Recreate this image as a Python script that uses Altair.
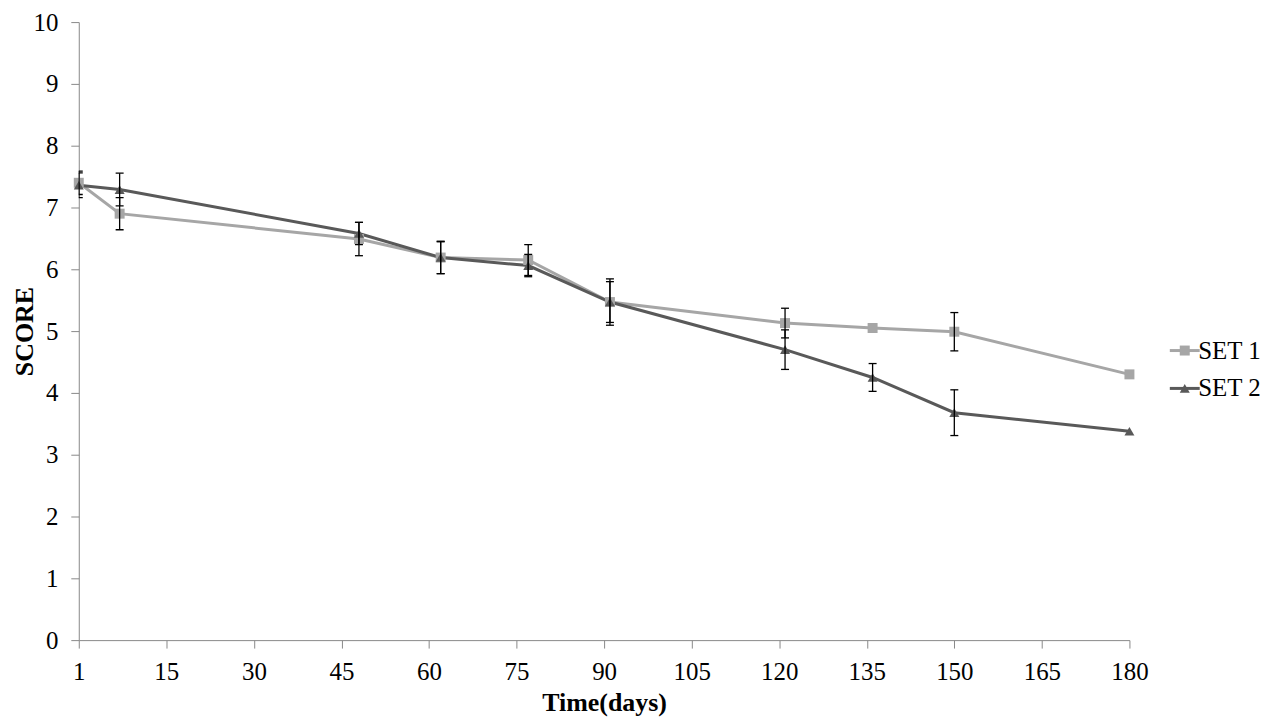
import altair as alt
import pandas as pd

# ---- data ----
days = [0, 7, 48, 62, 77, 91, 121, 136, 150, 180]
set1 = [7.40, 6.90, 6.49, 6.19, 6.15, 5.47, 5.13, 5.05, 4.99, 4.30]
set1_err = [0.19, 0.26, 0.27, 0.26, 0.25, 0.33, 0.24, None, 0.31, None]
set2 = [7.36, 7.29, 6.58, 6.19, 6.06, 5.47, 4.70, 4.25, 3.68, 3.38]
set2_err = [0.20, 0.265, 0.18, 0.26, 0.18, 0.375, 0.32, 0.225, 0.37, None]

series_names = ["SET 1", "SET 2"]
colors = ["#A6A6A6", "#595959"]
shapes = ["square", "triangle-up"]
x_ticks = [0, 15, 30, 45, 60, 75, 90, 105, 120, 135, 150, 165, 180]
y_ticks = [0, 1, 2, 3, 4, 5, 6, 7, 8, 9, 10]

rows = []
for name, vals, errs in [("SET 1", set1, set1_err), ("SET 2", set2, set2_err)]:
    for d, v, e in zip(days, vals, errs):
        rows.append({"day": d, "score": v, "err": e, "series": name, "name": name})
df = pd.DataFrame(rows)
err_df = df.dropna(subset=["err"]).copy()
err_df["lo"] = err_df["score"] - err_df["err"]
err_df["hi"] = err_df["score"] + err_df["err"]

FONT = "Liberation Serif"
AX = "#898989"

x_axis = alt.Axis(values=x_ticks, labelExpr="datum.value == 0 ? '1' : datum.label",
                  title="Time(days)", labelPadding=12, titlePadding=5,
                  labelFlush=False, labelOverlap=False, grid=False)
y_axis = alt.Axis(values=y_ticks, title="SCORE", labelPadding=13, titlePadding=-5, grid=False)

xs = alt.Scale(domain=[0, 180], nice=False, zero=False)
ys = alt.Scale(domain=[0, 10], nice=False)

def X():
    return alt.X("day:Q", scale=xs, axis=x_axis, title="Time(days)")

def Y(field):
    return alt.Y(field, scale=ys, axis=y_axis, title="SCORE")

LX = 1097
LY = 317

lines = alt.Chart(df).mark_line(strokeWidth=3).encode(
    x=X(), y=Y("score:Q"),
    stroke=alt.Stroke("series:N", scale=alt.Scale(range=colors),
                      legend=alt.Legend(title=None, orient="none", legendX=LX, legendY=LY,
                                        symbolType="M-3,0H3", symbolSize=100,
                                        symbolStrokeWidth=3, labelOpacity=0,
                                        labelFont=FONT, labelFontSize=25,
                                        labelOffset=1, rowPadding=12, padding=0,
                                        zindex=0)),
)

shape_legend = alt.Legend(title=None, orient="none", legendX=LX, legendY=LY,
                          symbolSize=100, labelFont=FONT, labelFontSize=25,
                          labelColor="black", labelOffset=1, rowPadding=12,
                          padding=0, zindex=1, symbolOpacity=1)

points = alt.Chart(df).mark_point(filled=True, size=100, opacity=1, strokeWidth=0).encode(
    x=X(), y=Y("score:Q"),
    fill=alt.Fill("name:N", scale=alt.Scale(domain=series_names, range=colors), legend=shape_legend),
    shape=alt.Shape("name:N", scale=alt.Scale(domain=series_names, range=shapes), legend=shape_legend),
)

bars = alt.Chart(err_df).mark_rule(color="black", strokeWidth=1.3, clip=True).encode(
    x=X(), y=Y("lo:Q"), y2="hi:Q"
)
cap_lo = alt.Chart(err_df).mark_tick(orient="horizontal", size=8, thickness=1.3,
                                     color="black", opacity=1, clip=True).encode(
    x=X(), y=Y("lo:Q")
)
cap_hi = alt.Chart(err_df).mark_tick(orient="horizontal", size=8, thickness=1.3,
                                     color="black", opacity=1, clip=True).encode(
    x=X(), y=Y("hi:Q")
)

chart = alt.layer(lines, points, bars, cap_lo, cap_hi).properties(
    width=1054, height=620,
    autosize=alt.AutoSizeParams(type="none"),
    padding={"left": 71, "top": 13, "right": 135, "bottom": 77},
    background="white",
).configure_view(stroke=None).configure_axis(
    grid=False, domainColor=AX, tickColor=AX, tickSize=8, domainWidth=1, tickWidth=1,
    labelFont=FONT, labelFontSize=25, labelColor="black",
    titleFont=FONT, titleFontSize=26, titleFontWeight="bold", titleColor="black",
)

chart.save("out.html", embed_options={"renderer": "svg", "actions": False})
